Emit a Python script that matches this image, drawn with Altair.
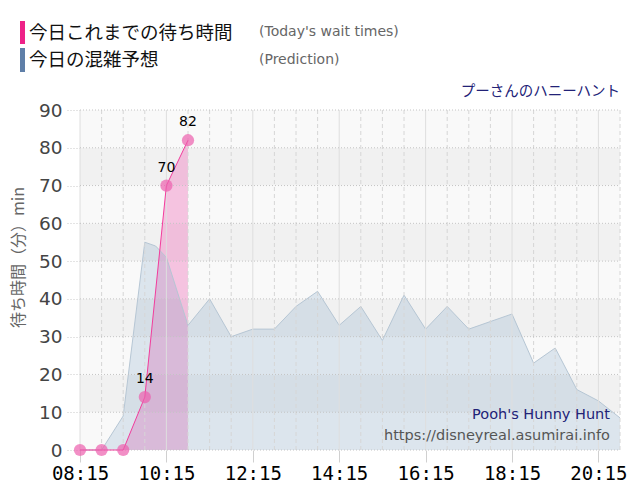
import altair as alt
import pandas as pd

# ---------------- data ----------------
pred_times = ["08:15", "08:45", "09:15", "09:45", "10:00", "10:15", "10:45", "11:15", "11:45",
              "12:15", "12:45", "13:15", "13:45", "14:15", "14:45", "15:15", "15:45",
              "16:15", "16:45", "17:15", "17:45", "18:15", "18:45", "19:15", "19:45",
              "20:15", "20:45"]
pred_values = [0, 0, 9, 55, 54, 51, 33, 40, 30,
               32, 32, 38, 42, 33, 38, 29, 41,
               32, 38, 32, 34, 36, 23, 27, 16,
               13, 8.5]

actual_times = ["08:15", "08:45", "09:15", "09:45", "10:15", "10:45"]
actual_values = [0, 0, 0, 14, 70, 82]

y_ticks = [0, 10, 20, 30, 40, 50, 60, 70, 80, 90]
x_tick_labels = ["08:15", "10:15", "12:15", "14:15", "16:15", "18:15", "20:15"]
grid_times = ["08:15", "08:45", "09:15", "09:45", "10:15", "10:45", "11:15", "11:45",
              "12:15", "12:45", "13:15", "13:45", "14:15", "14:45", "15:15", "15:45",
              "16:15", "16:45", "17:15", "17:45", "18:15", "18:45", "19:15", "19:45",
              "20:15", "20:45"]
x_start, x_end = "08:15", "20:45"


def to_min(t):
    h, m = t.split(":")
    return int(h) * 60 + int(m)


pred = pd.DataFrame({"t": [to_min(t) for t in pred_times], "v": pred_values})
act = pd.DataFrame({"t": [to_min(t) for t in actual_times], "v": actual_values})
bands = pd.DataFrame({
    "v": y_ticks[1:],
    "lo": y_ticks[:-1],
    "shade": ["light" if i % 2 == 0 else "dark" for i in range(len(y_ticks) - 1)],
})
hgrid = pd.DataFrame({"v": y_ticks})
major = [to_min(t) for t in x_tick_labels]
vgrid = pd.DataFrame({"t": [to_min(t) for t in grid_times]})
vgrid["major"] = vgrid["t"].isin(major)
dummy = pd.DataFrame({"a": [0]})

W, H = 540, 340
LEFT, TOP = 80, 110

xscale = alt.Scale(domain=[to_min(x_start), to_min(x_end)], nice=False, zero=False)
yscale = alt.Scale(domain=[0, 90], nice=False)

xaxis = alt.Axis(
    values=major,
    labelExpr="format(floor(datum.value/60),'02d') + ':' + format(datum.value % 60,'02d')",
    grid=False, domain=False, ticks=True, tickSize=12, tickColor="#d0d0d0",
    labelFont="DejaVu Sans Mono", labelFontSize=19, labelColor="#000000",
    labelPadding=2, title=None, labelFlush=False,
)
yaxis = alt.Axis(
    values=y_ticks, grid=False, domain=True, domainColor="#a8acb8",
    ticks=True, tickSize=15, tickColor="#c8c8c8", tickDash=[1, 2],
    labelFont="DejaVu Sans", labelFontSize=18.5, labelColor="#444444",
    labelPadding=3, title="待ち時間（分）min", titleFont="Noto Sans CJK JP",
    titleFontSize=16, titleFontWeight="normal", titleColor="#666666",
    titleAngle=270, titleX=-62, titleY=147, titleAlign="center", titleBaseline="middle",
)

X = alt.X("t:Q", scale=xscale, axis=xaxis)
Y = alt.Y("v:Q", scale=yscale, axis=yaxis)

band_layer = alt.Chart(bands).mark_rect().encode(
    x=alt.value(0), x2=alt.value(W),
    y=Y, y2="lo:Q",
    color=alt.Color("shade:N", scale=alt.Scale(domain=["light", "dark"],
                                                range=["#f9f9f9", "#f1f1f1"]), legend=None),
)

vgrid_minor = alt.Chart(vgrid).transform_filter("!datum.major").mark_rule(
    color="#d6d6d6", strokeDash=[4, 3], strokeWidth=1
).encode(x=X, y=alt.value(0), y2=alt.value(H))

vgrid_major = alt.Chart(vgrid).transform_filter("datum.major").mark_rule(
    color="#dedede", strokeWidth=1
).encode(x=X, y=alt.value(0), y2=alt.value(H))

hgrid_layer = alt.Chart(hgrid).mark_rule(
    color="#c4c4c4", strokeDash=[1, 2], strokeWidth=1
).encode(y=Y, x=alt.value(0), x2=alt.value(W))

pink_area = alt.Chart(act).mark_area(
    interpolate="linear", color="#f080c0", opacity=0.45
).encode(x=X, y=Y)

blue_area = alt.Chart(pred).mark_area(
    interpolate="linear", color="#6794bc", opacity=0.2
).encode(x=X, y=Y)

blue_line = alt.Chart(pred).mark_line(
    interpolate="linear", color="#b6c6d4", strokeWidth=1
).encode(x=X, y=Y)

pink_line = alt.Chart(act).mark_line(
    interpolate="linear", color="#f23c9c", strokeWidth=1
).encode(x=X, y=Y)

points = alt.Chart(act).mark_point(
    filled=True, size=150, color="#ec5fae", opacity=0.7
).encode(x=X, y=Y)

value_labels = alt.Chart(act).transform_filter("datum.v > 0").mark_text(
    dy=-18, fontSize=14, font="DejaVu Sans", color="#000000", baseline="middle"
).encode(x=X, y=Y, text=alt.Text("v:Q"))


def label(txt, x, y, size, color, align="left", font="DejaVu Sans"):
    return alt.Chart(dummy).mark_text(
        text=txt, align=align, baseline="middle", fontSize=size, color=color, font=font
    ).encode(x=alt.value(x - LEFT), y=alt.value(y - TOP))


def swatch(color, y0, y1):
    return alt.Chart(dummy).mark_rect(color=color).encode(
        x=alt.value(20 - LEFT), x2=alt.value(25 - LEFT),
        y=alt.value(y0 - TOP), y2=alt.value(y1 - TOP))


JP = "Noto Sans CJK JP"
annotations = [
    swatch("#ee2288", 21, 44),
    swatch("#5f7fa8", 48, 72),
    label("今日これまでの待ち時間", 29, 33, 18.5, "#111111", font=JP),
    label("(Today's wait times)", 259, 32, 14, "#666666"),
    label("今日の混雑予想", 29, 60, 18.5, "#111111", font=JP),
    label("(Prediction)", 259, 60, 14, "#666666"),
    label("プーさんのハニーハント", 620, 92, 14.5, "#222277", align="right", font=JP),
    label("Pooh's Hunny Hunt", 610, 415, 14.5, "#222277", align="right"),
    label("https://disneyreal.asumirai.info", 610, 436, 14.5, "#555555", align="right"),
]

chart = alt.layer(
    band_layer, pink_area, blue_area, blue_line, vgrid_minor, vgrid_major, hgrid_layer,
    pink_line, points, value_labels, *annotations
).properties(
    width=W, height=H,
    autosize=alt.AutoSizeParams(type="none"),
    padding={"left": LEFT, "top": TOP, "right": 640 - LEFT - W, "bottom": 500 - TOP - H},
    background="#ffffff",
).configure_view(stroke=None)

chart.save("out.html", embed_options={"renderer": "svg", "actions": False})
